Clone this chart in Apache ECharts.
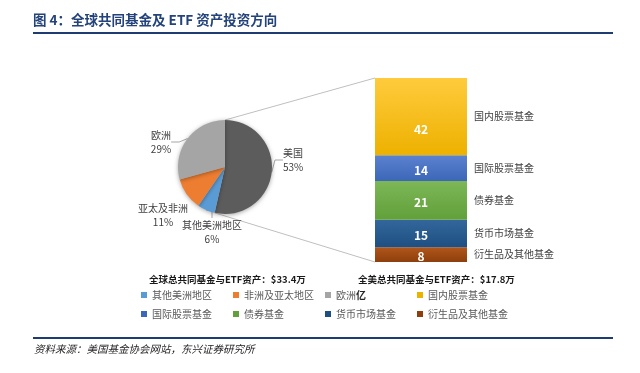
<!DOCTYPE html>
<html><head><meta charset="utf-8">
<script src="https://cdn.jsdelivr.net/npm/echarts@6/dist/echarts.min.js"></script>
<style>html,body{margin:0;padding:0;background:#fff}#c{width:640px;height:373px}</style>
</head><body><div id="c"></div>
<script>
// ---- data ----
const pieNames = ['美国', '其他美洲地区', '亚太及非洲', '欧洲'];
const pieValues = [53, 6, 11, 29];
const pieColors = ['#5C5C5C', '#5B9BD5', '#ED7D31', '#A5A5A5'];
const fundNames = ['衍生品及其他基金', '货币市场基金', '债券基金', '国际股票基金', '国内股票基金'];
const fundValues = [8, 15, 21, 14, 42];
const fundColors = [['#B0561C', '#8E3F0B'], ['#33679B', '#1E4F82'], ['#7DB757', '#61A03A'], ['#5B82CF', '#3C66B8'], ['#FFCB3D', '#EDB100']];
const headerGlobal = '全球总共同基金与ETF资产：$33.4万';
const headerUS = '全美总共同基金与ETF资产：$17.8万';
const legendColumns = [
  ['其他美洲地区', '国际股票基金'],
  ['亚太及非洲', '债券基金'],
  ['欧洲', '货币市场基金'],
  ['国内股票基金', '衍生品及其他基金']
];
const legendText = { '亚太及非洲': '非洲及亚太地区', '欧洲': '欧洲{b|亿}' };
const titleText = '图 4：全球共同基金及 ETF 资产投资方向';
const sourceText = '资料来源：美国基金协会网站，东兴证券研究所';

// label placement relative to the pie centre (style only)
const pieLabelPlace = [
  { dx: 58, dy: -7, align: 'left' },
  { dx: -13, dy: 65, align: 'center' },
  { dx: -62, dy: 48, align: 'center' },
  { dx: -64, dy: -25, align: 'center' }
];
const barLabelShift = [2, 2, 2, 2, 13];

const FONT = '"Noto Sans CJK SC", "Noto Sans", sans-serif';
const PIE_C = [225, 167];
const chart = echarts.init(document.getElementById('c'), null, { renderer: 'canvas' });

function colorOf(name) {
  let i = pieNames.indexOf(name);
  if (i >= 0) return pieColors[i];
  i = fundNames.indexOf(name);
  return fundColors[i][1];
}

const series = [{
  type: 'pie',
  center: PIE_C,
  radius: 47,
  startAngle: 90,
  data: pieNames.map((n, i) => ({
    name: n, value: pieValues[i], itemStyle: { color: pieColors[i] },
    labelLine: { show: i !== 2 }
  })),
  itemStyle: { shadowBlur: 4, shadowColor: 'rgba(0,0,0,0.35)', shadowOffsetY: 1, borderWidth: 0 },
  label: {
    show: true, position: 'outside', formatter: '{b}\n{c}%', fontSize: 10, lineHeight: 14,
    color: '#404040', fontFamily: FONT
  },
  labelLine: { show: true, length: 5, length2: 8, lineStyle: { color: '#A6A6A6', width: 1 } },
  labelLayout: function (p) {
    const s = pieLabelPlace[p.dataIndex];
    return { x: PIE_C[0] + s.dx, y: PIE_C[1] + s.dy, align: s.align, verticalAlign: 'middle' };
  },
  emphasis: { disabled: true },
  silent: true
}];
fundNames.forEach((n, i) => {
  series.push({
    type: 'bar', name: n, stack: 'a', data: [fundValues[i]], barWidth: 92, barGap: '-100%',
    itemStyle: { color: new echarts.graphic.LinearGradient(0, 0, 0, 1, [{ offset: 0, color: fundColors[i][0] }, { offset: 1, color: fundColors[i][1] }]) },
    label: { show: true, position: 'inside', offset: [0, barLabelShift[i]], color: '#fff', fontWeight: 'bold', fontSize: 12, fontFamily: FONT },
    silent: true
  });
});
fundNames.forEach((n, i) => {
  series.push({
    type: 'bar', name: n + '·', stack: 'b', data: [fundValues[i]], barWidth: 92, barGap: '-100%',
    itemStyle: { color: 'rgba(0,0,0,0)' },
    label: { show: true, position: 'right', distance: 7, formatter: n, color: '#404040', fontSize: 10, fontFamily: FONT },
    silent: true
  });
});

const colX = [141, 233, 325, 417];
const legends = legendColumns.map((col, i) => ({
  orient: 'vertical', left: colX[i], top: 288, padding: 0,
  itemWidth: 6, itemHeight: 6, itemGap: 5, icon: 'rect', selectedMode: false,
  data: col.map(n => ({ name: n, itemStyle: { color: colorOf(n) } })),
  formatter: n => legendText[n] || n,
  textStyle: { fontSize: 10, color: '#595959', lineHeight: 14, fontFamily: FONT,
    rich: { b: { fontSize: 10, fontWeight: 'bold', color: '#262626', fontFamily: FONT } } }
}));

chart.setOption({
  animation: false,
  textStyle: { fontFamily: FONT },
  title: [
    { text: titleText, left: 33, top: 13, padding: 0, textStyle: { fontSize: 13.5, fontWeight: 'bold', color: '#24437A', fontFamily: FONT } },
    { text: headerGlobal, left: 149, top: 275, padding: 0, textStyle: { fontSize: 9.5, fontWeight: 'bold', color: '#1A1A1A', fontFamily: FONT } },
    { text: headerUS, left: 358, top: 275, padding: 0, textStyle: { fontSize: 9.5, fontWeight: 'bold', color: '#1A1A1A', fontFamily: FONT } }
  ],
  grid: { left: 375, width: 92, top: 78, height: 184 },
  xAxis: { type: 'category', data: ['x'], show: false },
  yAxis: { type: 'value', min: 0, max: 100, show: false },
  legend: legends,
  series: series,
  graphic: [
    { id: 'topLine', type: 'line', shape: { x1: 33, y1: 33, x2: 613, y2: 33 }, style: { stroke: '#1F3C72', lineWidth: 2 } },
    { id: 'botLine', type: 'line', shape: { x1: 33, y1: 338, x2: 613, y2: 338 }, style: { stroke: '#1F3C72', lineWidth: 2 } },
    { id: 'src', type: 'text', left: 34, top: 344, style: { text: sourceText, fill: '#262626', font: 'italic 10.5px ' + FONT } }
  ]
});

// connector lines between the 美国 slice and the stacked bar
const pieData = chart.getModel().getSeriesByIndex(0).getData();
const pl = pieData.getItemLayout(0);
const p1 = [pl.cx + pl.r * Math.cos(pl.startAngle), pl.cy + pl.r * Math.sin(pl.startAngle)];
const p2 = [pl.cx + pl.r * Math.cos(pl.endAngle), pl.cy + pl.r * Math.sin(pl.endAngle)];
const topBar = chart.getModel().getSeriesByIndex(fundNames.length).getData().getItemLayout(0);
const botBar = chart.getModel().getSeriesByIndex(1).getData().getItemLayout(0);
const barTop = Math.min(topBar.y, topBar.y + topBar.height);
const barBot = Math.max(botBar.y, botBar.y + botBar.height);
const barLeft = Math.min(topBar.x, topBar.x + topBar.width);
chart.setOption({
  graphic: [
    { id: 'c1', type: 'line', z: -1, shape: { x1: p1[0], y1: p1[1], x2: barLeft, y2: barTop }, style: { stroke: '#BFBFBF', lineWidth: 1 } },
    { id: 'c2', type: 'line', z: -1, shape: { x1: p2[0], y1: p2[1], x2: barLeft, y2: barBot }, style: { stroke: '#BFBFBF', lineWidth: 1 } }
  ]
});
</script>
</body></html>
